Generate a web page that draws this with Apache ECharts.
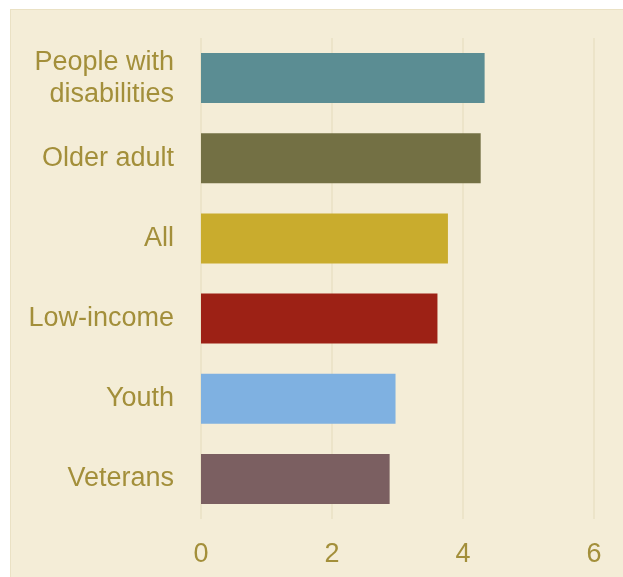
<!DOCTYPE html>
<html>
<head>
<meta charset="utf-8">
<script src="https://cdn.jsdelivr.net/npm/echarts@6/dist/echarts.min.js"></script>
<style>
  html, body { margin: 0; padding: 0; background: #ffffff; }
  #chart {
    position: absolute; left: 10px; top: 9px;
    width: 612px; height: 567px;
    background: #F4EDD7;
    border-left: 1px solid #EAE1C4;
    border-top: 1px solid #EAE1C4;
  }
</style>
</head>
<body>
<div id="chart"></div>
<script>
var categories = ['People with\ndisabilities', 'Older adult', 'All', 'Low-income', 'Youth', 'Veterans'];
var values = [4.33, 4.27, 3.77, 3.61, 2.97, 2.88];
var colors = ['#5B8D93', '#737044', '#C9AC2D', '#9D2115', '#7FB1E1', '#7B5F61'];
var xTicks = [0, 2, 4, 6];

var chart = echarts.init(document.getElementById('chart'), null, { renderer: 'canvas' });
var textColor = '#A38F3A';
var fontFamily = '"Liberation Sans", Arial, sans-serif';

option = {
    animation: false,
    backgroundColor: 'transparent',
    grid: {
        left: 190,
        right: 29,
        top: 28,
        bottom: 58
    },
    xAxis: {
        type: 'value',
        min: xTicks[0],
        max: xTicks[xTicks.length - 1],
        interval: 2,
        axisLine: { show: false },
        axisTick: { show: false },
        splitLine: { show: true, lineStyle: { color: '#ECE4C9', width: 2 } },
        axisLabel: {
            color: textColor,
            fontSize: 27,
            fontFamily: fontFamily,
            margin: 22
        }
    },
    yAxis: {
        type: 'category',
        inverse: true,
        data: categories,
        axisLine: { show: false },
        axisTick: { show: false },
        axisLabel: {
            color: textColor,
            fontSize: 27,
            lineHeight: 32,
            fontFamily: fontFamily,
            margin: 27,
            align: 'right'
        }
    },
    series: [
        {
            type: 'bar',
            barWidth: 50,
            data: values.map(function (v, i) {
                return { value: v, itemStyle: { color: colors[i] } };
            })
        }
    ]
};
chart.setOption(option);
</script>
</body>
</html>
